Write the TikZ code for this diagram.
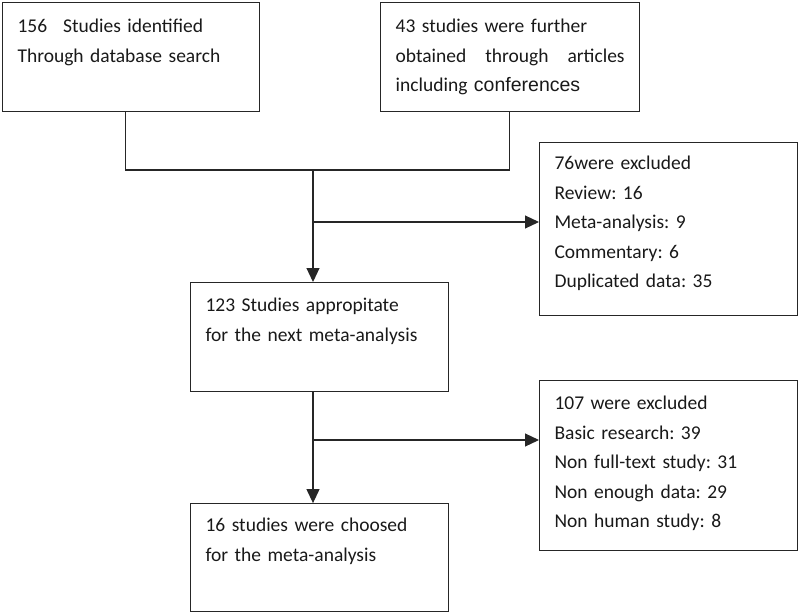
\documentclass[tikz,border=0pt]{standalone}
\usepackage{fontspec}
\setmainfont{Carlito}
\newfontfamily\arialfont{Liberation Sans}
\usetikzlibrary{arrows.meta, positioning}
\frenchspacing

\begin{document}
\begin{tikzpicture}[
        x=1pt, y=-1pt,
        box/.style={rectangle, draw=black!85, line width=1.1pt, inner xsep=15pt, inner ysep=0pt, align=left, text=black!90, font=\fontsize{19.5}{29.5}\selectfont},
        arrow/.style={-{Triangle[length=14pt, width=13pt]}},
        link/.style={draw=black!85, line width=1.1pt}
    ]
    \useasboundingbox (0,0) rectangle (800,613);

    % Sources
    \node (ident) [box, anchor=north west, text width=227pt, text height=30pt, text depth=79pt] at (2,2) {156\hspace{16pt}Studies identified\\Through database search};
    \node (further) [box, right=120pt of ident, text width=229pt, text height=30pt, text depth=79pt] {43 studies were further\\\makebox[\linewidth][l]{obtained\hfill through\hfill articles}\\including {\arialfont\fontsize{19.5}{29.5}\selectfont conferences}};

    % First screening
    \node (approp) [box, anchor=north west, text width=228pt, text height=29pt, text depth=80pt] at (190,282) {123 Studies appropitate\\for the next meta-analysis};
    \node (excl1) [box, anchor=north west, text width=228pt, text height=27pt, text depth=146pt] at (539,142) {76were excluded\\Review: 16\\Meta-analysis: 9\\Commentary: 6\\Duplicated data: 35};

    % Second screening
    \node (chosen) [box, below=111pt of approp, text width=228pt, text height=28pt, text depth=80pt] {16 studies were choosed\\for the meta-analysis};
    \node (excl2) [box, below=64pt of excl1, text width=228pt, text height=29pt, text depth=141pt] {107 were excluded\\Basic research: 39\\Non full-text study: 31\\Non enough data: 29\\Non human study: 8};

    % Connectors
    \coordinate (join) at (313,170);
    \coordinate (split1) at (313,222);
    \coordinate (split2) at (313,440);
    \draw[link] ([xshift=-6pt]ident.south) |- (join) -| ([xshift=-1pt]further.south);
    \draw[link, arrow] (join) -- (join |- approp.north);
    \draw[link, arrow] (split1) -- (split1 -| excl1.west);
    \draw[link, arrow] (approp.south -| join) -- (chosen.north -| join);
    \draw[link, arrow] (split2) -- (split2 -| excl2.west);
\end{tikzpicture}
\end{document}
